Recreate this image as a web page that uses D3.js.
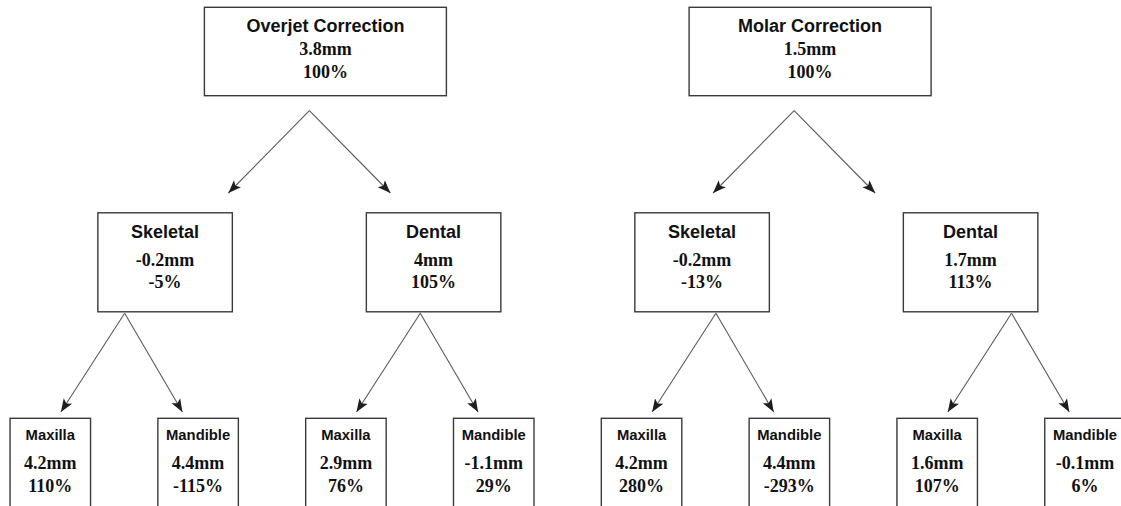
<!DOCTYPE html>
<html>
<head>
<meta charset="utf-8">
<script src="https://cdn.jsdelivr.net/npm/d3@7"></script>
<style>
  html, body { margin: 0; padding: 0; background: #fff; }
  svg { display: block; }
</style>
</head>
<body>
<svg id="chart" width="1121" height="506"></svg>
<script>
// ---- data ----
const trees = ["Overjet Correction", "Molar Correction"];
const treeMM = [3.8, 1.5];
const treePct = [100, 100];
const components = ["Skeletal", "Dental"];
const componentMM = [[-0.2, 4], [-0.2, 1.7]];
const componentPct = [[-5, 105], [-13, 113]];
const jaws = ["Maxilla", "Mandible"];
const jawMM = [[[4.2, 4.4], [2.9, -1.1]], [[4.2, 4.4], [1.6, -0.1]]];
const jawPct = [[[110, -115], [76, 29]], [[280, -293], [107, 6]]];

// ---- hierarchy built from the arrays ----
const rootData = {
  name: "root",
  children: trees.map((t, i) => ({
    name: t, mm: treeMM[i], pct: treePct[i],
    children: components.map((c, j) => ({
      name: c, mm: componentMM[i][j], pct: componentPct[i][j],
      children: jaws.map((k, m) => ({ name: k, mm: jawMM[i][j][m], pct: jawPct[i][j][m] }))
    }))
  }))
};
const root = d3.hierarchy(rootData);

// ---- layout ----
const W = 1121, H = 506;
const xByLevel = {
  1: d3.scaleLinear().domain([0, 1]).range([325.4, 810.1]),
  2: d3.scaleLinear().domain([0, 3]).range([165.1, 970.6]),
  3: d3.scaleLinear().domain([0, 7]).range([50.3, 1085])
};
const yTop = d3.scaleLinear().domain([1, 3]).range([7.3, 418.3]);
const boxW = { 1: 242, 2: 134.5, 3: 80.5 };
const boxH = { 1: 88.4, 2: 99, 3: 102 };
const nameSize = { 1: 18, 2: 18, 3: 14.8 };
const lineOff = { 1: [25.1, 47.7, 70.7], 2: [25.2, 53.2, 75.2], 3: [21.7, 50.2, 73.2] };

[1, 2, 3].forEach(L => {
  root.descendants().filter(d => d.depth === L).forEach((d, i) => {
    d.cx = xByLevel[L](i);
    d.top = yTop(L);
    d.w = boxW[L];
    d.h = boxH[L];
  });
});

const svg = d3.select("#chart");
svg.append("rect").attr("width", W).attr("height", H).attr("fill", "#fff");

const defs = svg.append("defs");
defs.append("marker")
  .attr("id", "arrow")
  .attr("markerUnits", "userSpaceOnUse")
  .attr("viewBox", "0 -6 14 12")
  .attr("refX", 13).attr("refY", 0)
  .attr("markerWidth", 14).attr("markerHeight", 12)
  .attr("orient", "auto")
  .append("path")
  .attr("d", "M0,-5 L13,0 L0,5 L3,0 Z")
  .attr("fill", "#1e1e1e");

// ---- connectors ----
const links = [];
root.descendants().filter(d => d.depth === 1).forEach(p => {
  const ax = p.cx - 16, ay = p.top + p.h + 15;
  p.children.forEach((c, j) => {
    links.push({ x1: ax, y1: ay, x2: ax + (j === 0 ? -81 : 81), y2: 193 });
  });
});
root.descendants().filter(d => d.depth === 2).forEach(p => {
  const tips = p.children.map((c, m) => c.cx + (m === 0 ? 10.6 : -15.7));
  const ax = d3.mean(tips) + 3, ay = p.top + p.h + 1.5;
  tips.forEach(tx => links.push({ x1: ax, y1: ay, x2: tx, y2: 412 }));
});

svg.append("g").selectAll("line").data(links).join("line")
  .attr("x1", d => d.x1).attr("y1", d => d.y1)
  .attr("x2", d => d.x2).attr("y2", d => d.y2)
  .attr("stroke", "#5a5a5a").attr("stroke-width", 1.1)
  .attr("marker-end", "url(#arrow)");

// ---- boxes ----
const nodes = root.descendants().filter(d => d.depth > 0);
const g = svg.append("g").selectAll("g").data(nodes).join("g");

g.append("rect")
  .attr("x", d => d.cx - d.w / 2).attr("y", d => d.top)
  .attr("width", d => d.w).attr("height", d => d.h)
  .attr("fill", "#fff").attr("stroke", "#3a3a3a").attr("stroke-width", 1.4);

g.append("text")
  .attr("x", d => d.cx).attr("y", d => d.top + lineOff[d.depth][0])
  .attr("text-anchor", "middle")
  .attr("font-family", "'Liberation Sans', Arial, sans-serif")
  .attr("font-weight", "bold")
  .attr("font-size", d => nameSize[d.depth])
  .attr("fill", "#111")
  .text(d => d.data.name);

g.append("text")
  .attr("x", d => d.cx).attr("y", d => d.top + lineOff[d.depth][1])
  .attr("text-anchor", "middle")
  .attr("font-family", "'Liberation Serif', 'Times New Roman', serif")
  .attr("font-weight", "bold")
  .attr("font-size", 18)
  .attr("fill", "#111")
  .text(d => `${d.data.mm}mm`);

g.append("text")
  .attr("x", d => d.cx).attr("y", d => d.top + lineOff[d.depth][2])
  .attr("text-anchor", "middle")
  .attr("font-family", "'Liberation Serif', 'Times New Roman', serif")
  .attr("font-weight", "bold")
  .attr("font-size", 18)
  .attr("fill", "#111")
  .text(d => `${d.data.pct}%`);
</script>
</body>
</html>
